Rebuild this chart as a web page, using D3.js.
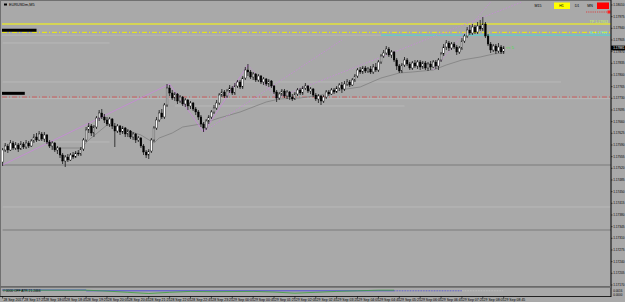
<!DOCTYPE html>
<html><head><meta charset="utf-8">
<script src="https://cdn.jsdelivr.net/npm/d3@7"></script>
<style>
body{margin:0;background:#a9a9a9;}
svg{display:block;}
text{font-family:"Liberation Sans",Arial,sans-serif;}
</style>
</head><body>
<svg id="chart" width="625" height="302"></svg>
<script>
// EURUSD M5, 193 bars
const opens = [
117539,117575,117587,117575,117596,117581,117590,117578,117593,117584,
117596,117587,117602,117614,117605,117623,117608,117620,117599,117587,
117596,117575,117581,117560,117542,117554,117545,117560,117554,117566,
117563,117578,117605,117635,117647,117626,117644,117671,117686,117674,
117665,117653,117668,117647,117632,117647,117629,117641,117623,117632,
117614,117623,117605,117611,117587,117569,117560,117572,117605,117641,
117665,117686,117674,117710,117761,117746,117731,117743,117722,117734,
117713,117725,117707,117716,117698,117689,117674,117653,117641,117662,
117674,117689,117701,117716,117740,117749,117737,117752,117761,117746,
117767,117779,117764,117791,117815,117809,117794,117803,117785,117797,
117779,117788,117773,117782,117767,117749,117731,117743,117752,117737,
117749,117734,117728,117743,117755,117746,117761,117767,117752,117758,
117740,117728,117737,117722,117734,117749,117743,117755,117749,117761,
117770,117758,117773,117779,117770,117785,117797,117815,117809,117821,
117812,117818,117809,117824,117815,117839,117857,117866,117878,117860,
117869,117845,117827,117812,117830,117845,117833,117821,117836,117827,
117839,117824,117836,117821,117833,117824,117839,117827,117845,117863,
117884,117896,117881,117893,117884,117869,117881,117902,117917,117935,
117926,117944,117929,117947,117938,117953,117917,117893,117875,117887,
117872,117884,117869].map(v => v / 100000);
const highs = [
117581,117596,117593,117605,117602,117599,117596,117602,117599,117605,
117602,117608,117623,117626,117632,117629,117629,117623,117605,117602,
117599,117587,117584,117566,117560,117563,117566,117569,117572,117575,
117584,117611,117644,117656,117653,117650,117677,117695,117698,117683,
117674,117674,117671,117656,117653,117650,117647,117644,117638,117635,
117629,117626,117617,117614,117593,117575,117578,117611,117647,117674,
117695,117698,117716,117773,117770,117755,117749,117746,117740,117737,
117731,117728,117722,117719,117704,117695,117680,117659,117668,117680,
117695,117710,117725,117746,117758,117755,117758,117770,117767,117776,
117785,117785,117797,117824,117833,117815,117809,117806,117803,117800,
117794,117791,117788,117785,117770,117755,117749,117758,117758,117755,
117752,117743,117749,117761,117761,117767,117776,117770,117764,117761,
117746,117743,117740,117740,117755,117755,117761,117761,117767,117776,
117779,117782,117788,117785,117791,117803,117821,117824,117827,117827,
117824,117827,117833,117836,117845,117863,117875,117887,117884,117875,
117872,117851,117833,117836,117854,117851,117839,117842,117845,117845,
117845,117842,117842,117839,117842,117845,117845,117851,117869,117893,
117905,117902,117899,117899,117890,117887,117911,117923,117944,117950,
117953,117950,117959,117965,117974,117959,117923,117899,117893,117893,
117896,117890,117887].map(v => v / 100000);
const lows = [
117527,117569,117566,117572,117575,117575,117569,117575,117578,117578,
117581,117584,117596,117599,117602,117602,117599,117593,117581,117575,
117569,117563,117551,117533,117524,117539,117542,117548,117551,117557,
117557,117572,117599,117626,117617,117614,117638,117662,117668,117656,
117647,117644,117638,117584,117626,117620,117623,117614,117614,117608,
117605,117596,117599,117581,117560,117551,117548,117566,117599,117635,
117659,117668,117668,117704,117737,117725,117722,117713,117716,117707,
117704,117695,117698,117692,117680,117665,117644,117629,117635,117653,
117668,117683,117695,117710,117734,117731,117731,117746,117740,117740,
117761,117758,117758,117785,117797,117788,117785,117779,117779,117773,
117770,117767,117764,117761,117743,117719,117725,117737,117731,117728,
117725,117722,117725,117737,117740,117740,117755,117746,117743,117734,
117722,117716,117710,117716,117728,117737,117740,117743,117746,117752,
117746,117752,117767,117764,117767,117779,117791,117803,117803,117806,
117806,117803,117803,117809,117809,117833,117851,117860,117854,117851,
117839,117815,117806,117806,117824,117827,117815,117815,117821,117818,
117815,117818,117815,117812,117815,117821,117818,117815,117839,117857,
117875,117872,117875,117878,117860,117863,117875,117896,117911,117920,
117920,117923,117923,117932,117932,117911,117887,117866,117869,117863,
117866,117863,117863].map(v => v / 100000);
const closes = [
117575,117587,117575,117596,117581,117590,117578,117593,117584,117596,
117587,117602,117614,117605,117623,117608,117620,117599,117587,117596,
117575,117581,117560,117542,117554,117545,117560,117554,117566,117563,
117578,117605,117635,117647,117626,117644,117671,117686,117674,117665,
117653,117668,117647,117632,117647,117629,117641,117623,117632,117614,
117623,117605,117611,117587,117569,117560,117572,117605,117641,117665,
117686,117674,117710,117761,117746,117731,117743,117722,117734,117713,
117725,117707,117716,117698,117689,117674,117653,117641,117662,117674,
117689,117701,117716,117740,117749,117737,117752,117761,117746,117767,
117779,117764,117791,117815,117809,117794,117803,117785,117797,117779,
117788,117773,117782,117767,117749,117731,117743,117752,117737,117749,
117734,117728,117743,117755,117746,117761,117767,117752,117758,117740,
117728,117737,117722,117734,117749,117743,117755,117749,117761,117770,
117758,117773,117779,117770,117785,117797,117815,117809,117821,117812,
117818,117809,117824,117815,117839,117857,117866,117878,117860,117869,
117845,117827,117812,117830,117845,117833,117821,117836,117827,117839,
117824,117836,117821,117833,117824,117839,117827,117845,117863,117884,
117896,117881,117893,117884,117869,117881,117902,117917,117935,117926,
117944,117929,117947,117938,117953,117917,117893,117875,117887,117872,
117884,117869,117881].map(v => v / 100000);

// moving average, read at [bar, price]
const maBars   = [19, 30, 33, 40, 44, 53, 58, 60, 65, 69, 76, 83, 91, 101, 106, 114, 122, 129, 137, 145, 152, 157, 165, 170, 176, 183, 188, 192];
const maPrices = [1.17581,1.17581,1.17605,1.17650,1.17644,1.17620,1.17596,1.17611,1.17626,1.17644,1.17653,1.17671,1.17689,1.17719,
                  1.17728,1.17731,1.17740,1.17755,1.17764,1.17791,1.17806,1.17809,1.17815,1.17830,1.17845,1.17854,1.17863,1.17866];

// trend lines: [bar0, price0, bar1, price1]
const trendSolid  = [[0,1.17530,64,1.17773],[64,1.17773,77,1.17629],[77,1.17629,94,1.17830]];
const trendDotted = [[94,1.17830,105,1.17731],[78,1.17635,130,1.17905],[105,1.17731,199,1.18019],[165,1.17815,187,1.18019]];

// horizontal objects
const yellowLevel = 1.17953, yellowDashLevel = 1.17928, cyanLevel = 1.17922, redDashLevel = 1.17734;
const grayLevels = [[1.17896,0,41],[1.17599,0,41],[1.17779,0,214],[1.17729,0,235],[1.17707,66,154],
                    [1.17530,0,235],[1.17404,0,235],[1.17335,0,235]];
const darkLevels = [1.17530, 1.17335];
const blackMarks = [[1.17934,0,13],[1.17745,0,8.5]];
const stopLevel = 1.17989;

const priceTicks = ["1.18010","1.17975","1.17940","1.17905","1.17870","1.17835","1.17800","1.17765","1.17730",
  "1.17695","1.17660","1.17625","1.17590","1.17555","1.17520","1.17485","1.17450","1.17415","1.17380",
  "1.17345","1.17310","1.17275","1.17240","1.17205","1.17170"];
const timeLabels = ["28 Sep 2017","28 Sep 17:25","28 Sep 18:05","28 Sep 18:45","28 Sep 19:25","28 Sep 20:05",
  "28 Sep 20:45","28 Sep 21:25","28 Sep 22:05","28 Sep 22:45","28 Sep 23:25","29 Sep 00:05","29 Sep 00:45",
  "29 Sep 01:25","29 Sep 02:05","29 Sep 02:45","29 Sep 03:25","29 Sep 04:05","29 Sep 04:45","29 Sep 05:25",
  "29 Sep 06:05","29 Sep 06:45","29 Sep 07:25","29 Sep 08:05","29 Sep 08:45"];
const timeframes = ["M15","H1","D1","MN",""];

// indicator sub-window
const indBars  = [0, 32, 40, 48, 56, 64, 72, 80, 96, 104, 112, 120, 128, 136, 144, 150];
const indGreen = [0.20, 0.20, 0.35, 0.55, 0.75, 0.55, 0.40, 0.45, 0.40, 0.50, 0.70, 0.55, 0.40, 0.30, 0.20, 0.20];

const svg = d3.select("#chart");
const W = 625, H = 302, L = 2, R = 611, T = 2, B = 286;
const x = d3.scaleLinear().domain([0, 192]).range([2.6, 503.7]);
const y = d3.scaleLinear().domain([1.17167, 1.18019]).range([B, T]);

svg.append("rect").attr("width", W).attr("height", H).attr("fill", "#a9a9a9");
svg.append("defs").append("clipPath").attr("id", "clip")
  .append("rect").attr("x", L).attr("y", T).attr("width", R - L).attr("height", B - T);
const g = svg.append("g").attr("clip-path", "url(#clip)");

// gray levels
g.selectAll(".glev").data(grayLevels).join("line")
  .attr("x1", d => Math.max(L, x(d[1]))).attr("x2", d => Math.min(R, x(d[2])))
  .attr("y1", d => y(d[0])).attr("y2", d => y(d[0]))
  .attr("stroke", d => darkLevels.includes(d[0]) ? "#7c7c7c" : "#bdbdbd")
  .attr("stroke-width", d => darkLevels.includes(d[0]) ? 1.2 : 0.8);

// red dash-dot
g.append("line").attr("x1", L).attr("x2", R).attr("y1", y(redDashLevel)).attr("y2", y(redDashLevel))
  .attr("stroke", "#d24a4a").attr("stroke-width", 0.8).attr("stroke-dasharray", "5,2,1,2");

// yellow levels
g.append("line").attr("x1", L).attr("x2", R).attr("y1", y(yellowLevel)).attr("y2", y(yellowLevel))
  .attr("stroke", "#ffff00").attr("stroke-width", 1.2);
g.append("line").attr("x1", L).attr("x2", x(145)).attr("y1", y(cyanLevel) + 0.8).attr("y2", y(cyanLevel) + 0.8)
  .attr("stroke", "#bcbcbc").attr("stroke-width", 0.8);
g.append("line").attr("x1", x(145)).attr("x2", R).attr("y1", y(cyanLevel) + 0.8).attr("y2", y(cyanLevel) + 0.8)
  .attr("stroke", "#40e0e0").attr("stroke-width", 0.9);
g.append("line").attr("x1", L).attr("x2", R).attr("y1", y(yellowDashLevel)).attr("y2", y(yellowDashLevel))
  .attr("stroke", "#f0f000").attr("stroke-width", 1).attr("stroke-dasharray", "5,2,1,2");

// black marks on the left
g.selectAll(".bm").data(blackMarks).join("line")
  .attr("x1", L).attr("x2", d => x(d[2])).attr("y1", d => y(d[0])).attr("y2", d => y(d[0]))
  .attr("stroke", "#000").attr("stroke-width", 3);

// stop marker top right
g.append("line").attr("x1", 586).attr("x2", 607).attr("y1", y(stopLevel)).attr("y2", y(stopLevel))
  .attr("stroke", "#e03030").attr("stroke-width", 0.8).attr("stroke-dasharray", "1.2,1");
g.append("rect").attr("x", 607.5).attr("y", y(stopLevel) - 1.5).attr("width", 3).attr("height", 3).attr("fill", "#ff2020");

// level captions
g.append("text").attr("x", 608).attr("y", y(yellowLevel) - 0.6).attr("text-anchor", "end")
  .attr("font-size", 3.6).attr("fill", "#c8ff50").text("TP 1.17953");
g.append("text").attr("x", 608).attr("y", y(cyanLevel) - 0.2).attr("text-anchor", "end")
  .attr("font-size", 3.6).attr("fill", "#50f0e0").text("SL 1.17922");

// moving average
const maPts = maBars.map((b, i) => [b, maPrices[i]]);
g.append("path").datum(maPts)
  .attr("d", d3.line().x(d => x(d[0])).y(d => y(d[1])))
  .attr("fill", "none").attr("stroke", "#808080").attr("stroke-width", 0.8);

// trend lines
g.selectAll(".ts").data(trendSolid).join("line")
  .attr("x1", d => x(d[0])).attr("y1", d => y(d[1])).attr("x2", d => x(d[2])).attr("y2", d => y(d[3]))
  .attr("stroke", "#c987dc").attr("stroke-width", 0.8);
g.selectAll(".td").data(trendDotted).join("line")
  .attr("x1", d => x(d[0])).attr("y1", d => y(d[1])).attr("x2", d => x(d[2])).attr("y2", d => y(d[3]))
  .attr("stroke", "#c987dc").attr("stroke-width", 0.8).attr("stroke-dasharray", "1.5,1.5");

// candles
const bw = 1.7;
const bars = g.append("g").selectAll("g").data(d3.range(opens.length)).join("g");
bars.append("line")
  .attr("x1", i => x(i)).attr("x2", i => x(i))
  .attr("y1", i => y(highs[i])).attr("y2", i => y(lows[i]))
  .attr("stroke", "#000").attr("stroke-width", 0.7);
bars.append("rect")
  .attr("x", i => x(i) - bw / 2)
  .attr("y", i => y(Math.max(opens[i], closes[i])))
  .attr("width", bw)
  .attr("height", i => Math.max(0.6, Math.abs(y(opens[i]) - y(closes[i]))))
  .attr("fill", i => closes[i] >= opens[i] ? "#ffffff" : "#000000")
  .attr("stroke", "#000").attr("stroke-width", 0.4);

// bar countdown
g.append("text").attr("x", 506).attr("y", y(closes[192]) + 1.2).attr("font-size", 4)
  .attr("fill", "#40e040").text("<< 5");

// title
svg.append("rect").attr("x", 4).attr("y", 3.5).attr("width", 3).attr("height", 2).attr("fill", "#000");
svg.append("text").attr("x", 9).attr("y", 6.3).attr("font-size", 3.8).attr("fill", "#000").text("EURUSDm,M5");

// timeframe buttons
const tfX = [538, 561.5, 577, 590, 603];
svg.selectAll(".tfb").data(timeframes).join("g").each(function (d, i) {
  const s = d3.select(this);
  if (i === 1) s.append("rect").attr("x", 554).attr("y", 2.5).attr("width", 16).attr("height", 6.5).attr("fill", "#ffff00");
  if (i === 4) s.append("rect").attr("x", 597).attr("y", 2.5).attr("width", 12).attr("height", 6.5).attr("fill", "#ff0000");
  s.append("text").attr("x", tfX[i]).attr("y", 7).attr("text-anchor", "middle").attr("font-size", 3.6).attr("fill", "#000").text(d);
});

// frame
svg.append("line").attr("x1", 0).attr("x2", R).attr("y1", 0.5).attr("y2", 0.5).attr("stroke", "#707070");
svg.append("line").attr("x1", 0.5).attr("x2", 0.5).attr("y1", 0).attr("y2", 296).attr("stroke", "#707070");

// price axis
svg.append("line").attr("x1", R).attr("x2", R).attr("y1", 0).attr("y2", 297).attr("stroke", "#000").attr("stroke-width", 1);
const pt = svg.append("g").selectAll("g").data(priceTicks).join("g")
  .attr("transform", d => `translate(${R},${y(+d)})`);
pt.append("line").attr("x2", 1.5).attr("stroke", "#000").attr("stroke-width", 0.6);
pt.append("text").attr("x", 2.2).attr("y", 1.1).attr("font-size", 3.15).attr("fill", "#000").text(d => d);

// current price tag
const cy = y(closes[192]);
svg.append("rect").attr("x", R).attr("y", cy - 2.4).attr("width", 14).attr("height", 4.8).attr("fill", "#000");
svg.append("text").attr("x", R + 2.2).attr("y", cy + 1.1).attr("font-size", 3.15).attr("fill", "#fff").text(closes[192].toFixed(5));

// sub window
svg.append("line").attr("x1", 0).attr("x2", R).attr("y1", B + 0.8).attr("y2", B + 0.8).attr("stroke", "#6a6a6a").attr("stroke-width", 1.8);
const yi = d3.scaleLinear().domain([0, 1]).range([295, 289]);
svg.append("line").attr("x1", 2).attr("x2", x(32)).attr("y1", 290).attr("y2", 290).attr("stroke", "#3838e0").attr("stroke-width", 0.8);
svg.append("line").attr("x1", x(32)).attr("x2", x(150)).attr("y1", 290.8).attr("y2", 290.8).attr("stroke", "#3838e0").attr("stroke-width", 0.8);
svg.append("line").attr("x1", x(150)).attr("x2", x(176)).attr("y1", 290.8).attr("y2", 290.8).attr("stroke", "#3838e0").attr("stroke-width", 0.8).attr("stroke-dasharray", "0.8,0.8");
svg.append("line").attr("x1", x(176)).attr("x2", x(192)).attr("y1", 290.8).attr("y2", 290.8).attr("stroke", "#c8c8c8").attr("stroke-width", 0.8).attr("stroke-dasharray", "0.8,0.8");
svg.append("path").datum(indBars.map((b, i) => [b, indGreen[i]]))
  .attr("d", d3.line().x(d => x(d[0])).y(d => yi(1 - d[1]))).attr("fill", "none").attr("stroke", "#3aa03a").attr("stroke-width", 0.8);
svg.append("text").attr("x", 3).attr("y", 292).attr("font-size", 3.3).attr("fill", "#000").text("# 0000 OFF ATR 21.2466");
svg.append("text").attr("x", R + 2.2).attr("y", 292).attr("font-size", 3).attr("fill", "#000").text("0.0016");
svg.append("text").attr("x", R + 2.2).attr("y", 296).attr("font-size", 3).attr("fill", "#000").text("0.0000");

// time axis
svg.append("line").attr("x1", 0).attr("x2", R).attr("y1", 296.5).attr("y2", 296.5).attr("stroke", "#000").attr("stroke-width", 0.8);
const tt = svg.append("g").selectAll("g").data(timeLabels).join("g")
  .attr("transform", (d, i) => `translate(${x(i * 8)},296.5)`);
tt.append("line").attr("y2", 2).attr("stroke", "#000").attr("stroke-width", 0.6);
tt.append("text").attr("x", 0.8).attr("y", 4.4).attr("font-size", 3.5).attr("fill", "#000").text(d => d);
</script>
</body></html>
